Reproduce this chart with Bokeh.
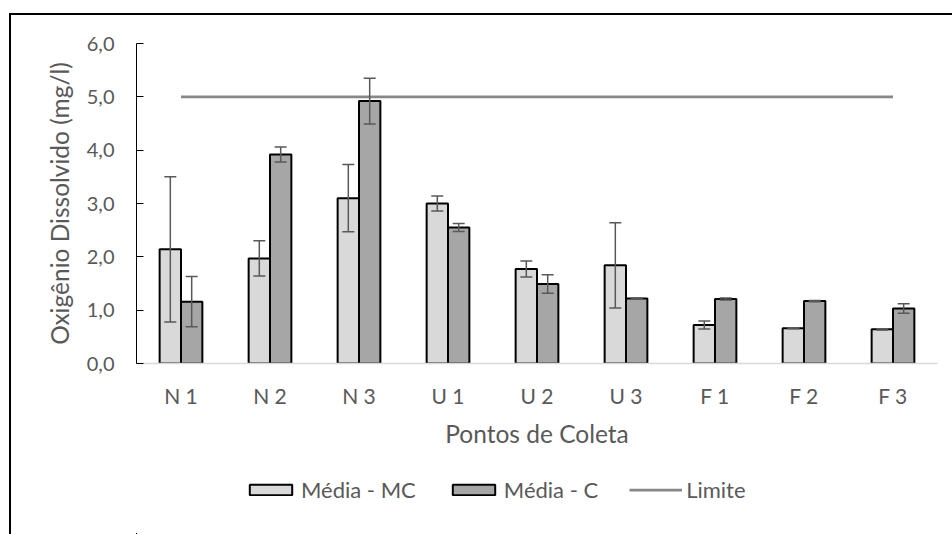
from bokeh.plotting import figure
from bokeh.layouts import column
from bokeh.models import (ColumnDataSource, FactorRange, Range1d, FixedTicker,
                          CustomJSTickFormatter, Whisker, TeeHead, Legend,
                          LegendItem, InlineStyleSheet)
from bokeh.transform import dodge
from bokeh.embed import file_html
from bokeh.resources import INLINE

# ---- data ----
categories = ["N 1", "N 2", "N 3", "U 1", "U 2", "U 3", "F 1", "F 2", "F 3"]
media_mc = [2.14, 1.97, 3.10, 3.00, 1.77, 1.84, 0.72, 0.66, 0.64]
sd_mc = [1.36, 0.33, 0.63, 0.14, 0.15, 0.80, 0.075, 0.01, 0.01]
media_c = [1.16, 3.92, 4.92, 2.55, 1.49, 1.22, 1.21, 1.17, 1.03]
sd_c = [0.47, 0.14, 0.43, 0.075, 0.175, 0.01, 0.02, 0.01, 0.09]
limite = [5.0] * len(categories)
y_ticks = [0, 1, 2, 3, 4, 5, 6]
series_names = ["Média - MC", "Média - C", "Limite"]

TEXT = "#595959"
FONT = "Lato"
MC_FILL = "#d9d9d9"
C_FILL = "#a6a6a6"
LIM_COLOR = "#878787"

src = ColumnDataSource(dict(
    cats=categories,
    mc=media_mc, mc_up=[m + s for m, s in zip(media_mc, sd_mc)],
    mc_lo=[m - s for m, s in zip(media_mc, sd_mc)],
    c=media_c, c_up=[m + s for m, s in zip(media_c, sd_c)],
    c_lo=[m - s for m, s in zip(media_c, sd_c)],
    lim=limite,
))

p = figure(width=952, height=455, output_backend="svg", toolbar_location=None,
           x_range=FactorRange(*categories, range_padding=0),
           y_range=Range1d(0, 6),
           min_border_left=136, min_border_top=43, min_border_right=15,
           min_border_bottom=92)
p.outline_line_color = None
p.background_fill_color = "white"
p.border_fill_color = "white"
p.xgrid.grid_line_color = None
p.ygrid.grid_line_color = None

# bars
p.vbar(x=dodge("cats", -0.12, range=p.x_range), top="mc", width=0.24, source=src,
       fill_color=MC_FILL, line_color="black", line_width=2)
p.vbar(x=dodge("cats", 0.12, range=p.x_range), top="c", width=0.24, source=src,
       fill_color=C_FILL, line_color="black", line_width=2)
# limit line
p.line(x="cats", y="lim", source=src, line_color=LIM_COLOR, line_width=2.75)

# error bars
for off, up, lo in [(-0.12, "mc_up", "mc_lo"), (0.12, "c_up", "c_lo")]:
    w = Whisker(base=dodge("cats", off, range=p.x_range), upper=up, lower=lo,
                source=src, line_color="#595959", line_width=1.5, level="overlay",
                upper_head=TeeHead(size=12, line_color="#595959", line_width=1.5),
                lower_head=TeeHead(size=12, line_color="#595959", line_width=1.5))
    p.add_layout(w)

# y axis
p.yaxis.ticker = FixedTicker(ticks=y_ticks)
p.yaxis.formatter = CustomJSTickFormatter(code="return tick.toFixed(1).replace('.', ',');")
p.yaxis.axis_line_color = "black"
p.yaxis.axis_line_width = 1
p.yaxis.major_tick_in = 7
p.yaxis.major_tick_out = 0
p.yaxis.major_tick_line_color = "black"
p.yaxis.minor_tick_line_color = None
p.yaxis.major_label_standoff = 22
p.yaxis.major_label_text_font = FONT
p.yaxis.major_label_text_font_size = "20px"
p.yaxis.major_label_text_color = TEXT
p.yaxis.axis_label = "Oxigênio Dissolvido (mg/l)"
p.yaxis.axis_label_text_font = FONT
p.yaxis.axis_label_text_font_size = "24.5px"
p.yaxis.axis_label_text_font_style = "normal"
p.yaxis.axis_label_text_color = TEXT
p.yaxis.axis_label_standoff = 10

# x axis
p.xaxis.axis_line_color = "#d9d9d9"
p.xaxis.axis_line_width = 1.5
p.xaxis.major_tick_line_color = None
p.xaxis.minor_tick_line_color = None
p.xaxis.major_label_standoff = 13
p.xaxis.major_label_text_font = FONT
p.xaxis.major_label_text_font_size = "21px"
p.xaxis.major_label_text_color = TEXT
p.xaxis.axis_label = "Pontos de Coleta"
p.xaxis.axis_label_text_font = FONT
p.xaxis.axis_label_text_font_size = "24.5px"
p.xaxis.axis_label_text_font_style = "normal"
p.xaxis.axis_label_text_color = TEXT
p.xaxis.axis_label_standoff = 8

# ---- legend strip (separate figure, so it is not clipped by the plot frame) ----
# its frame is aligned with the main frame by the column layout; the sample
# renderers reuse the data but lie outside this strip's ranges (never visible)
lf = figure(width=952, height=79, output_backend="svg", toolbar_location=None,
            x_range=Range1d(20, 21), y_range=Range1d(20, 21),
            x_axis_location=None, y_axis_location=None, min_border=0)
lf.outline_line_color = None
lf.background_fill_color = "white"
lf.border_fill_color = "white"
lf.xgrid.grid_line_color = None
lf.ygrid.grid_line_color = None
l_mc = lf.vbar(x="mc", top="mc", width=0.1, source=src,
               fill_color=MC_FILL, line_color="black", line_width=2)
l_c = lf.vbar(x="c", top="c", width=0.1, source=src,
              fill_color=C_FILL, line_color="black", line_width=2)
l_lim = lf.line(x="mc", y="lim", source=src, line_color=LIM_COLOR, line_width=2.75)

lg = Legend(items=[LegendItem(label=series_names[0], renderers=[l_mc]),
                   LegendItem(label=series_names[1], renderers=[l_c]),
                   LegendItem(label=series_names[2], renderers=[l_lim])],
            orientation="horizontal", location=(108, 31),
            glyph_width=53, glyph_height=13, label_standoff=4, spacing=31,
            padding=0, margin=0, border_line_color=None,
            background_fill_alpha=0,
            label_text_font=FONT, label_text_font_size="22px",
            label_text_color=TEXT)
lf.add_layout(lg)

layout = column(p, lf, spacing=0)

# chart border (outer frame of the original chart, cut at right/bottom)
layout.stylesheets.append(InlineStyleSheet(css="""
:host::after {
  content: ""; position: absolute; left: 9px; top: 13px;
  width: 1200px; height: 800px; border: 2px solid #000;
  pointer-events: none; box-sizing: border-box;
}
"""))

open("out.html", "w").write(file_html(layout, INLINE))
